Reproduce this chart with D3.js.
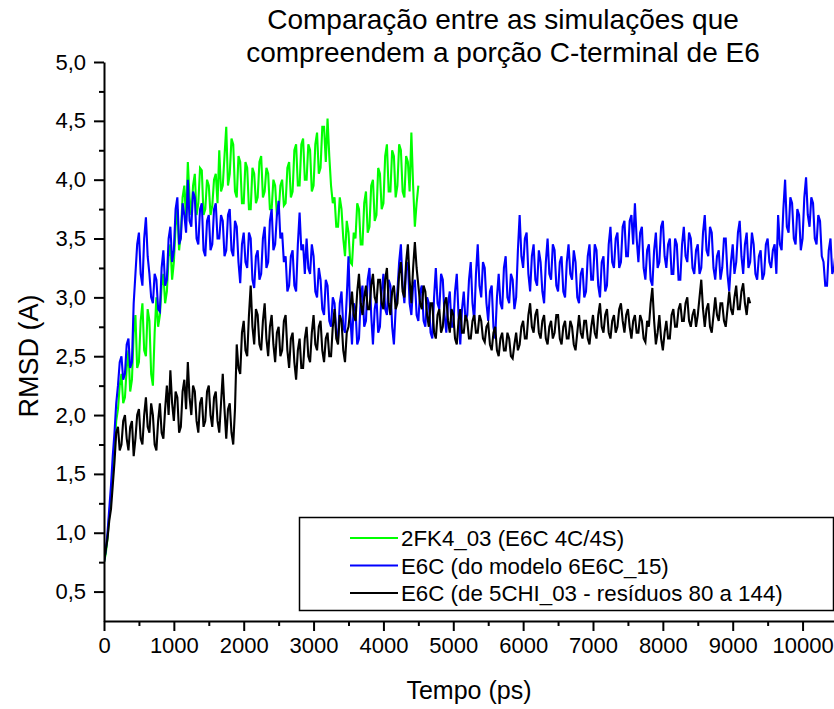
<!DOCTYPE html>
<html>
<head>
<meta charset="utf-8">
<script src="https://cdn.jsdelivr.net/npm/d3@7"></script>
<style>
  html, body { margin: 0; padding: 0; background: #fff; }
  svg { display: block; font-family: Arial, "Liberation Sans", sans-serif; }
</style>
</head>
<body>
<svg id="chart" width="834" height="709"></svg>
<script>
// ---- Data (RMSD in Å, sampled every 25 ps) ----
const timeStep = 25;

const green2FK4 = [
  0.75, 0.82, 0.95, 1.15, 1.30, 1.50, 1.70, 1.95, 2.05, 2.25, 2.35, 2.10, 2.15, 2.40, 2.55, 2.20, 2.30, 2.70, 2.85, 2.40,
  2.45, 2.80, 2.95, 2.55, 2.50, 2.90, 2.80, 2.35, 2.25, 2.70, 3.00, 2.75, 2.85, 3.10, 3.20, 2.95, 3.05, 3.35, 3.45, 3.15,
  3.30, 3.60, 3.75, 3.40, 3.55, 3.85, 3.95, 3.65, 4.15, 3.85, 3.70, 3.95, 4.05, 3.70, 3.80, 4.10, 4.08, 3.70, 3.75, 4.00,
  3.95, 3.70, 3.78, 4.00, 4.05, 3.80, 4.25, 3.90, 3.95, 4.20, 4.45, 3.95, 4.05, 4.35, 4.30, 3.90, 3.85, 4.20, 4.15, 3.80,
  3.80, 4.15, 4.10, 3.75, 3.75, 4.10, 4.05, 3.80, 3.85, 4.15, 4.20, 3.85, 3.90, 4.10, 4.05, 3.75, 3.75, 4.00, 3.95, 3.70,
  3.72, 3.95, 4.00, 3.78, 3.80, 4.10, 4.15, 3.85, 3.90, 4.25, 4.30, 3.95, 3.95, 4.30, 4.35, 4.00, 4.00, 4.30, 4.25, 3.90,
  3.95, 4.30, 4.40, 4.05, 4.10, 4.45, 4.45, 4.15, 4.52, 4.20, 3.95, 3.80, 3.85, 3.60, 3.60, 3.85, 3.75, 3.50, 3.35, 3.65,
  3.55, 3.30, 3.28, 3.55, 3.50, 3.80, 3.75, 3.45, 3.45, 3.80, 3.90, 3.55, 3.60, 3.95, 4.00, 3.65, 3.70, 4.10, 4.05, 3.75,
  3.80, 4.20, 4.30, 3.90, 3.90, 4.25, 4.20, 3.85, 3.95, 4.30, 4.25, 3.90, 3.85, 4.20, 4.15, 3.90, 4.40, 3.95, 3.60, 3.80,
  3.95
];

const blueE6C = [
  0.75, 0.85, 1.00, 1.20, 1.40, 1.65, 1.85, 2.10, 2.25, 2.45, 2.50, 2.30, 2.35, 2.60, 2.65, 2.40, 2.45, 2.95, 3.20, 3.45,
  3.55, 3.20, 3.10, 3.50, 3.68, 3.35, 3.20, 3.00, 2.95, 3.20, 3.15, 2.90, 2.88, 3.25, 3.40, 3.10, 3.15, 3.50, 3.60, 3.30,
  3.40, 3.75, 3.85, 3.45, 3.50, 3.80, 3.70, 3.55, 4.00, 3.65, 3.60, 3.90, 3.85, 3.50, 3.45, 3.75, 3.80, 3.40, 3.35, 3.65,
  3.70, 3.40, 3.45, 3.75, 3.80, 3.50, 3.50, 3.70, 3.65, 3.35, 3.40, 3.70, 3.75, 3.40, 3.35, 3.65, 3.60, 3.30, 3.12, 3.45,
  3.55, 3.30, 3.25, 3.55, 3.50, 3.15, 3.08, 3.35, 3.40, 3.15, 3.20, 3.50, 3.60, 3.25, 3.30, 3.65, 3.75, 3.40, 3.45, 3.70,
  3.82, 3.50, 3.55, 3.30, 3.35, 3.05, 3.10, 3.35, 3.40, 3.10, 3.05, 3.45, 3.72, 3.40, 3.45, 3.20, 3.50, 3.25, 3.20, 3.45,
  3.35, 3.05, 3.00, 3.25, 3.15, 2.90, 2.85, 3.15, 3.10, 2.80, 2.75, 3.00, 2.95, 2.70, 2.65, 2.95, 3.05, 2.75, 2.70, 3.00,
  3.35, 2.85, 2.60, 2.95, 2.90, 2.60, 2.65, 3.00, 3.10, 2.75, 2.80, 3.15, 3.25, 2.85, 2.60, 2.90, 3.00, 2.70, 2.75, 3.05,
  3.20, 2.90, 2.85, 3.15, 3.10, 2.75, 2.60, 2.90, 3.05, 3.30, 3.45, 3.10, 2.95, 3.25, 3.30, 2.95, 2.85, 3.10, 3.15, 2.85,
  2.80, 3.05, 3.10, 2.80, 2.75, 3.00, 2.95, 2.70, 2.65, 3.00, 3.25, 2.95, 2.90, 3.20, 3.15, 2.85, 2.70, 2.95, 3.05, 2.75,
  2.75, 3.05, 3.20, 2.85, 2.60, 2.90, 3.05, 2.80, 2.85, 3.15, 3.30, 2.95, 2.80, 3.20, 3.45, 3.10, 3.00, 3.30, 3.25, 2.95,
  2.80, 3.05, 3.10, 2.75, 2.65, 3.00, 3.20, 2.95, 2.90, 3.25, 3.35, 3.00, 2.95, 3.20, 3.15, 2.90, 3.00, 3.40, 3.70, 3.35,
  3.25, 3.50, 3.55, 3.20, 3.05, 3.35, 3.45, 3.15, 3.10, 3.40, 3.30, 3.05, 2.95, 3.30, 3.50, 3.20, 3.15, 3.45, 3.40, 3.10,
  3.05, 3.30, 3.35, 3.05, 3.00, 3.30, 3.45, 3.20, 3.15, 3.40, 3.30, 3.00, 2.95, 3.20, 3.25, 3.00, 3.05, 3.35, 3.45, 3.15,
  3.15, 3.45, 3.40, 3.10, 3.00, 3.30, 3.35, 3.05, 3.10, 3.45, 3.60, 3.30, 3.25, 3.50, 3.55, 3.25, 3.30, 3.60, 3.65, 3.35,
  3.35, 3.65, 3.70, 3.45, 3.80, 3.50, 3.30, 3.55, 3.60, 3.25, 3.15, 3.40, 3.45, 3.15, 3.10, 3.40, 3.55, 3.25, 3.30, 3.60,
  3.65, 3.35, 3.25, 3.45, 3.50, 3.20, 3.20, 3.50, 3.45, 3.15, 3.15, 3.45, 3.60, 3.35, 3.30, 3.55, 3.50, 3.25, 3.20, 3.40,
  3.45, 3.20, 3.25, 3.55, 3.70, 3.40, 3.35, 3.60, 3.55, 3.25, 3.15, 3.35, 3.40, 3.15, 3.25, 3.50, 3.50, 3.20, 3.05, 3.30,
  3.45, 3.20, 3.30, 3.55, 3.65, 3.35, 3.20, 3.45, 3.55, 3.25, 3.30, 3.55, 3.45, 3.20, 3.15, 3.35, 3.40, 3.15, 3.20, 3.45,
  3.50, 3.30, 3.25, 3.40, 3.45, 3.20, 3.70, 3.45, 3.40, 3.75, 4.00, 3.60, 3.55, 3.85, 3.80, 3.50, 3.45, 3.75, 3.70, 3.40,
  3.50, 3.85, 4.02, 3.70, 3.60, 3.85, 3.80, 3.50, 3.45, 3.70, 3.65, 3.35, 3.30, 3.10, 3.10, 3.40, 3.50, 3.20, 3.25, 3.40
];

const black5CHI = [
  0.75, 0.85, 0.95, 1.10, 1.20, 1.40, 1.60, 1.85, 1.90, 1.70, 1.75, 1.95, 2.00, 1.80, 1.70, 1.90, 1.95, 1.65, 1.80, 2.00,
  2.05, 1.80, 1.75, 2.00, 2.15, 1.90, 1.85, 2.10, 2.00, 1.75, 1.70, 1.95, 2.10, 1.85, 1.80, 2.05, 2.25, 2.00, 2.38, 2.10,
  1.95, 2.20, 2.15, 1.85, 1.90, 2.20, 2.30, 2.05, 2.45, 2.15, 2.00, 2.25, 2.20, 1.95, 1.85, 2.10, 2.15, 1.90, 1.95, 2.20,
  2.25, 2.00, 1.90, 2.15, 2.20, 1.95, 1.85, 2.10, 2.35, 2.05, 1.80, 2.05, 2.10, 1.85, 1.75, 2.05, 2.60, 2.40, 2.35, 2.70,
  2.80, 2.55, 2.50, 2.85, 3.10, 2.75, 2.60, 2.90, 2.85, 2.60, 2.55, 2.80, 2.95, 2.65, 2.50, 2.75, 2.85, 2.60, 2.45, 2.70,
  2.75, 2.50, 2.55, 2.80, 2.85, 2.55, 2.40, 2.65, 2.70, 2.45, 2.30, 2.55, 2.65, 2.40, 2.40, 2.65, 2.75, 2.50, 2.45, 2.70,
  2.85, 2.60, 2.55, 2.75, 2.80, 2.55, 2.45, 2.65, 2.70, 2.50, 2.50, 2.75, 2.90, 2.65, 2.60, 2.85, 2.80, 2.55, 2.45, 2.70,
  2.75, 2.90, 3.05, 2.85, 2.80, 3.05, 3.20, 2.95, 2.85, 3.00, 3.10, 2.90, 2.90, 3.10, 3.20, 3.00, 2.95, 3.15, 3.15, 2.95,
  2.90, 3.15, 3.25, 2.95, 2.85, 3.05, 3.10, 2.90, 2.95, 3.20, 3.30, 3.05, 3.00, 3.30, 3.45, 3.15, 2.95, 3.25, 3.47, 3.25,
  3.10, 2.95, 2.90, 3.10, 3.05, 2.85, 2.75, 2.95, 2.95, 2.70, 2.65, 2.85, 2.90, 2.70, 2.75, 2.95, 3.00, 2.80, 2.70, 2.90,
  2.85, 2.65, 2.60, 2.80, 2.90, 2.70, 2.70, 2.85, 2.80, 2.65, 2.65, 2.80, 2.85, 2.70, 2.70, 2.85, 2.80, 2.65, 2.62, 2.75,
  2.78, 2.60, 2.55, 2.70, 2.75, 2.55, 2.50, 2.65, 2.70, 2.55, 2.55, 2.70, 2.65, 2.50, 2.48, 2.60, 2.70, 2.55, 2.60, 2.75,
  2.80, 2.65, 2.65, 2.85, 2.95, 2.75, 2.70, 2.85, 2.90, 2.70, 2.65, 2.80, 2.85, 2.65, 2.60, 2.75, 2.80, 2.65, 2.70, 2.85,
  2.85, 2.65, 2.60, 2.75, 2.80, 2.65, 2.65, 2.80, 2.75, 2.60, 2.55, 2.70, 2.85, 2.70, 2.65, 2.80, 2.80, 2.65, 2.60, 2.75,
  2.85, 2.70, 2.65, 2.85, 2.95, 2.75, 2.70, 2.85, 2.90, 2.70, 2.65, 2.80, 2.85, 2.70, 2.75, 2.90, 2.95, 2.80, 2.70, 2.85,
  2.90, 2.75, 2.65, 2.80, 2.85, 2.70, 2.70, 2.85, 2.80, 2.65, 2.62, 2.80, 2.75, 2.95, 3.08, 2.80, 2.60, 2.70, 2.85, 2.65,
  2.55, 2.70, 2.80, 2.65, 2.65, 2.85, 2.90, 2.75, 2.75, 2.90, 2.95, 2.80, 2.80, 2.95, 3.00, 2.80, 2.75, 2.85, 2.90, 2.75,
  2.85, 3.00, 3.15, 2.90, 2.75, 2.90, 2.95, 2.75, 2.70, 2.85, 3.00, 2.85, 2.80, 2.95, 2.95, 2.80, 2.75, 2.90, 3.05, 2.90,
  2.85, 3.00, 3.10, 2.90, 2.90, 3.05, 3.12, 2.95, 2.85, 3.00, 2.95
];

const seriesNames = [
  "2FK4_03 (E6C 4C/4S)",
  "E6C (do modelo 6E6C_15)",
  "E6C (de 5CHI_03 - resíduos 80 a 144)"
];
const seriesColors = ["#00ff00", "#0000ff", "#000000"];
const seriesData = [green2FK4, blueE6C, black5CHI];

const xMajorTicks = [0, 1000, 2000, 3000, 4000, 5000, 6000, 7000, 8000, 9000, 10000];
const xMinorTicks = [500, 1500, 2500, 3500, 4500, 5500, 6500, 7500, 8500, 9500];
const yMajorTicks = [0.5, 1.0, 1.5, 2.0, 2.5, 3.0, 3.5, 4.0, 4.5, 5.0];
const yMinorTicks = [0.75, 1.25, 1.75, 2.25, 2.75, 3.25, 3.75, 4.25, 4.75];

const titleLines = ["Comparação entre as simulações que", "compreendem a porção C-terminal de E6"];
const xTitle = "Tempo (ps)";
const yTitle = "RMSD (A)";

// ---- Layout ----
const svg = d3.select("#chart");
const pLeft = 104, pRight = 834, pTop = 62, pBottom = 621;

const x = d3.scaleLinear().domain([0, 10450]).range([pLeft, pRight]);
const y = d3.scaleLinear().domain([0.25, 5.0]).range([pBottom, pTop]);

svg.append("defs").append("clipPath").attr("id", "plotclip")
  .append("rect").attr("x", pLeft).attr("y", pTop - 5)
  .attr("width", pRight - pLeft).attr("height", pBottom - pTop + 5);

const line = d3.line()
  .x((d, i) => x(i * timeStep))
  .y(d => y(d));

const gLines = svg.append("g").attr("clip-path", "url(#plotclip)");
seriesData.forEach((s, k) => {
  gLines.append("path")
    .datum(s)
    .attr("fill", "none")
    .attr("stroke", seriesColors[k])
    .attr("stroke-width", 2.1)
    .attr("d", line);
});

const fmt = d => d3.format(".1f")(d).replace(".", ",");

const xAxis = svg.append("g").attr("transform", `translate(0,${pBottom})`)
  .call(d3.axisBottom(x).tickValues(xMajorTicks).tickSize(10).tickSizeOuter(0).tickFormat(d3.format("d")));
svg.append("g").attr("transform", `translate(0,${pBottom})`)
  .call(d3.axisBottom(x).tickValues(xMinorTicks).tickSize(5).tickSizeOuter(0).tickFormat(""))
  .select(".domain").remove();

const yAxis = svg.append("g").attr("transform", `translate(${pLeft},0)`)
  .call(d3.axisLeft(y).tickValues(yMajorTicks).tickSize(10).tickSizeOuter(0).tickFormat(fmt));
svg.append("g").attr("transform", `translate(${pLeft},0)`)
  .call(d3.axisLeft(y).tickValues(yMinorTicks).tickSize(5).tickSizeOuter(0).tickFormat(""))
  .select(".domain").remove();

svg.selectAll(".domain").attr("stroke", "#000").attr("stroke-width", 2);
svg.selectAll(".tick line").attr("stroke", "#000").attr("stroke-width", 2);
xAxis.selectAll(".tick text").attr("font-size", 22).attr("fill", "#000")
  .attr("font-family", "Arial, 'Liberation Sans', sans-serif").attr("dy", "0.95em").attr("y", 11);
yAxis.selectAll(".tick text").attr("font-size", 22).attr("fill", "#000")
  .attr("font-family", "Arial, 'Liberation Sans', sans-serif").attr("x", -18);

svg.append("text").attr("font-size", 28).attr("text-anchor", "middle")
  .selectAll("tspan").data(titleLines).join("tspan")
  .attr("x", 503).attr("y", (d, i) => 29 + i * 33).text(d => d);

svg.append("text").attr("x", 469).attr("y", 699).attr("font-size", 25)
  .attr("text-anchor", "middle").text(xTitle);

svg.append("text").attr("transform", "translate(38,356) rotate(-90)")
  .attr("font-size", 27).attr("text-anchor", "middle").text(yTitle);

const lg = svg.append("g");
lg.append("rect").attr("x", 299.5).attr("y", 517.5).attr("width", 534).attr("height", 93)
  .attr("fill", "#fff").attr("stroke", "#000").attr("stroke-width", 1.5);
seriesNames.forEach((name, k) => {
  const yy = 538 + k * 27.5;
  lg.append("line").attr("x1", 350).attr("x2", 398).attr("y1", yy).attr("y2", yy)
    .attr("stroke", seriesColors[k]).attr("stroke-width", 1.8);
  lg.append("text").attr("x", 401).attr("y", yy + 8).attr("font-size", 22.3).text(name);
});
</script>
</body>
</html>
